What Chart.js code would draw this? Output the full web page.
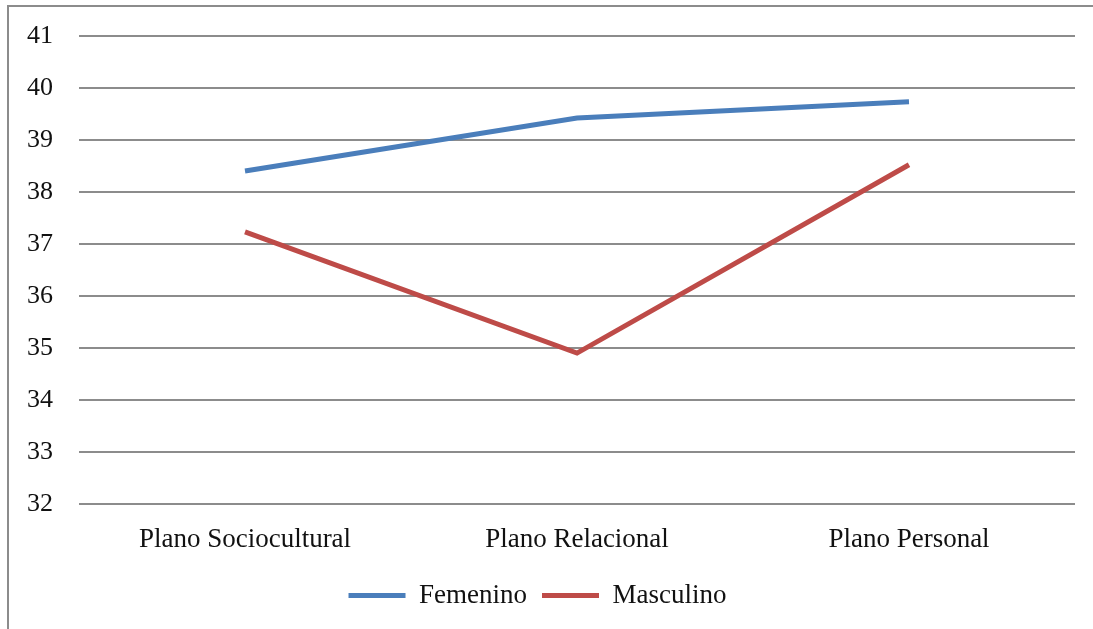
<!DOCTYPE html>
<html>
<head>
<meta charset="utf-8">
<script src="https://cdn.jsdelivr.net/npm/chart.js"></script>
<style>
  html, body { margin: 0; padding: 0; background: #fff; }
  #wrap { width: 1093px; height: 629px; position: relative; }
</style>
</head>
<body>
<div id="wrap"><canvas id="myChart" width="1093" height="629"></canvas></div>
<script>
// data
const categories = ['Plano Sociocultural', 'Plano Relacional', 'Plano Personal'];
const femenino = [38.40, 39.42, 39.73];
const masculino = [37.23, 34.90, 38.52];
const yMin = 32;
const yMax = 41;

const frame = {
  id: 'frame',
  beforeDraw(chart) {
    const c = chart.ctx;
    c.save();
    c.strokeStyle = '#8c8c8c';
    c.lineWidth = 2;
    c.beginPath();
    c.moveTo(8, 629);
    c.lineTo(8, 6);
    c.lineTo(1093, 6);
    c.stroke();
    c.restore();
  }
};

Chart.defaults.font.family = '"Liberation Serif", "DejaVu Serif", serif';
Chart.defaults.font.size = 26;
Chart.defaults.color = '#111';

new Chart(document.getElementById('myChart'), {
  type: 'line',
  data: {
    labels: categories,
    datasets: [{
      label: 'Femenino',
      data: femenino,
      borderColor: '#4a7ebb',
      backgroundColor: '#4a7ebb',
      borderWidth: 5,
      pointRadius: 0,
      tension: 0
    }, {
      label: 'Masculino',
      data: masculino,
      borderColor: '#be4b48',
      backgroundColor: '#be4b48',
      borderWidth: 5,
      pointRadius: 0,
      tension: 0
    }]
  },
  options: {
    responsive: false,
    animation: false,
    layout: { padding: { top: 18, right: 18, left: 0, bottom: 10 } },
    scales: {
      x: {
        offset: true,
        grid: { display: false },
        border: { display: false },
        ticks: { padding: 14, maxRotation: 0, font: { size: 27, lineHeight: 1 } }
      },
      y: {
        min: yMin,
        max: yMax,
        afterFit(axis) { axis.width = 79; },
        grid: { color: '#8c8c8c', lineWidth: 2, drawTicks: false },
        border: { display: false },
        ticks: { stepSize: 1, padding: 26, font: { lineHeight: 0.75 } }
      }
    },
    plugins: {
      legend: {
        position: 'bottom',
        labels: {
          boxWidth: 57,
          boxHeight: 5,
          padding: 15,
          font: { size: 27, lineHeight: 1 },
          generateLabels(chart) {
            const items = Chart.defaults.plugins.legend.labels.generateLabels(chart);
            items.forEach(it => { it.lineWidth = 0; });
            return items;
          }
        }
      },
      tooltip: { enabled: false }
    }
  },
  plugins: [frame]
});
</script>
</body>
</html>
